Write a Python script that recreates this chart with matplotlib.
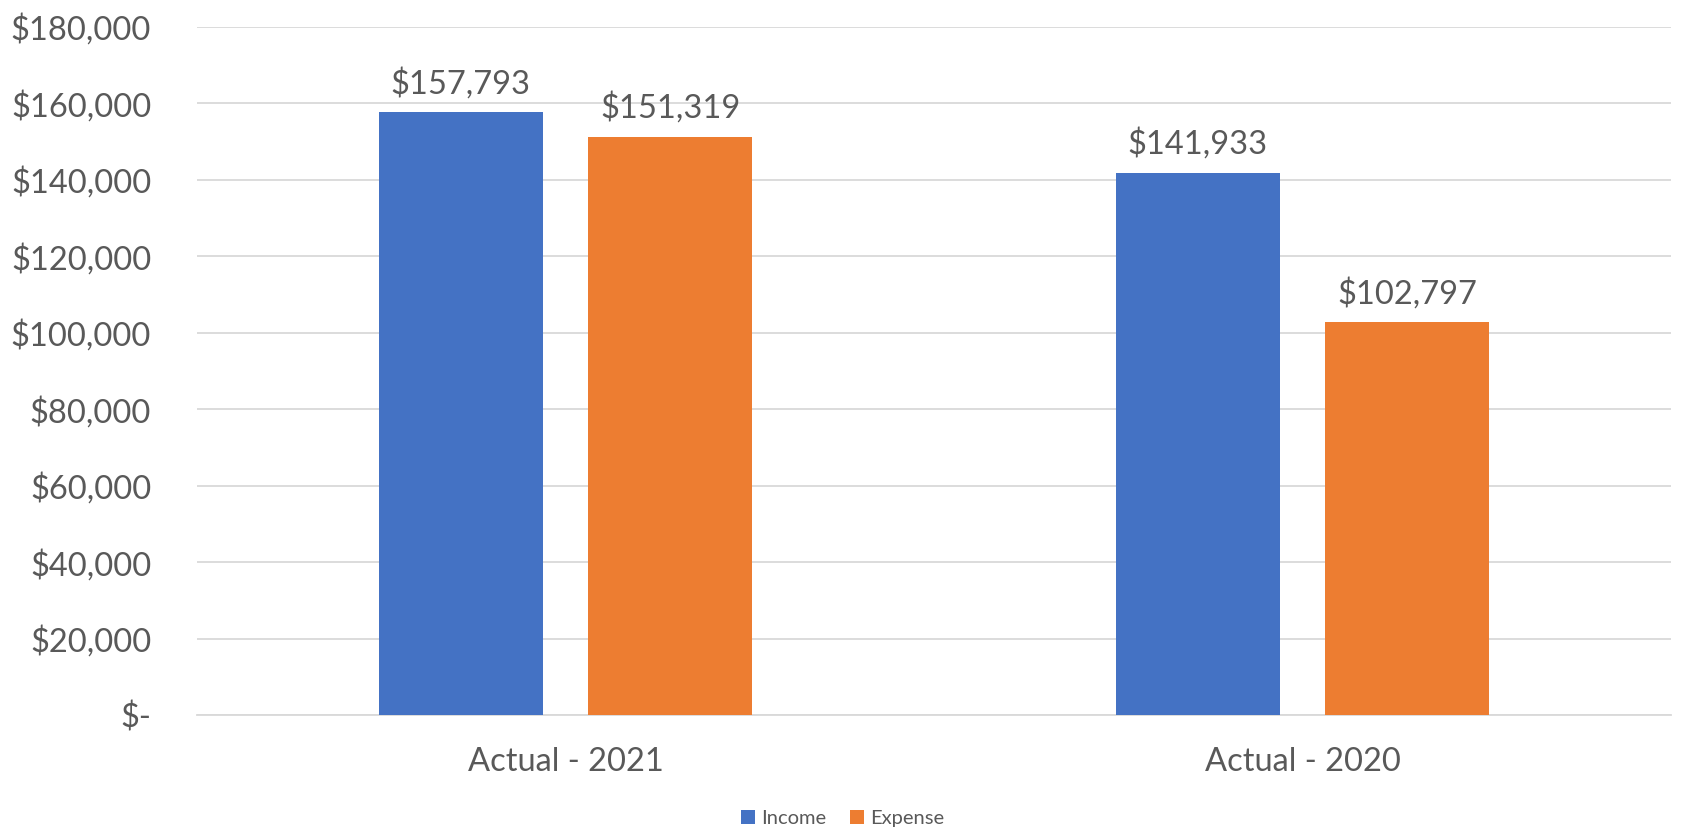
import matplotlib
matplotlib.use("Agg")
import matplotlib.pyplot as plt
import numpy as np

categories = ["Actual - 2021", "Actual - 2020"]
series_names = ["Income", "Expense"]
income = [157793, 141933]
expense = [151319, 102797]
yticks = [0, 20000, 40000, 60000, 80000, 100000, 120000, 140000, 160000, 180000]

colors = ["#4472C4", "#ED7D31"]
text_color = "#595959"
plt.rcParams['font.family'] = ['Lato', 'DejaVu Sans']

fig = plt.figure(figsize=(16.85, 8.35), dpi=100)
ax = fig.add_axes([197/1685, 1 - 715/835, (1671-197)/1685, (715-27)/835])

x = np.arange(len(categories))
w = 0.223
gap = 0.061
off = (w + gap) / 2
for vals, name, c, d in [(income, series_names[0], colors[0], -off), (expense, series_names[1], colors[1], off)]:
    bars = ax.bar(x + d, vals, width=w, color=c, label=name, zorder=3)
    for b, v in zip(bars, vals):
        ax.text(b.get_x() + b.get_width() / 2, v + 3300, f"${v:,}", ha="center", va="bottom",
                fontsize=23.5, color=text_color)

ax.set_xlim(-0.5, 1.5)
ax.set_ylim(0, 180000)
ax.set_yticks(yticks)
ax.set_yticklabels(["$-" if t == 0 else f"${t:,}" for t in yticks])
ax.set_xticks(x)
ax.set_xticklabels(categories)
ax.tick_params(axis='both', length=0, labelsize=23.5, colors=text_color)
ax.tick_params(axis='y', pad=33)
ax.tick_params(axis='x', pad=23)
for lab in ax.get_yticklabels():
    lab.set_horizontalalignment('right')
ax.yaxis.grid(True, color="#D9D9D9", linewidth=1.3, zorder=0)
for s in ["top", "right", "left"]:
    ax.spines[s].set_visible(False)
ax.spines["bottom"].set_color("#D9D9D9")
ax.spines["bottom"].set_linewidth(1.3)

fig.legend(loc="lower center", bbox_to_anchor=(0.5, -0.012), ncol=2, frameon=False,
           fontsize=14.5, labelcolor=text_color, handlelength=0.7, handleheight=0.7,
           handletextpad=0.3, columnspacing=1.2)

fig.savefig("out.png", dpi=100, facecolor="white")
